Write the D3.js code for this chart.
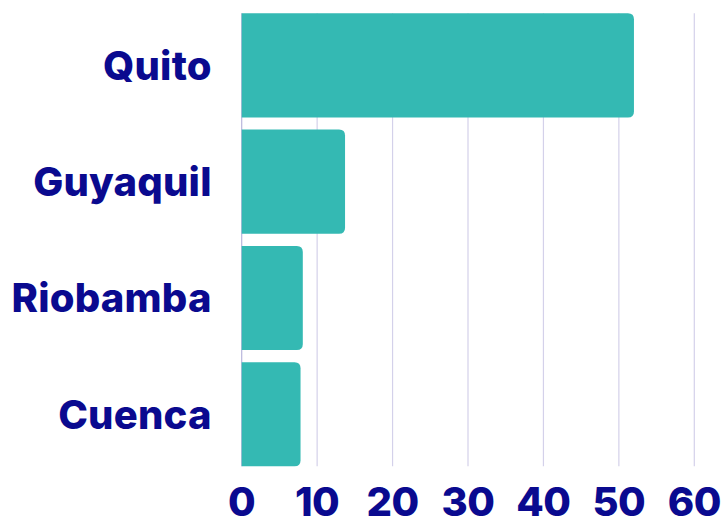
<!DOCTYPE html>
<html>
<head>
<meta charset="utf-8">
<script src="https://cdn.jsdelivr.net/npm/d3@7"></script>
<style>
  body { margin: 0; background: #fff; }
  text { font-family: "Inter", "Lato", sans-serif; font-weight: 800; fill: #0a0a8f; }
</style>
</head>
<body>
<div id="chart"></div>
<script>
const cities = ['Quito', 'Guyaquil', 'Riobamba', 'Cuenca'];
const values = [52, 13.7, 8.1, 7.8];
const ticks = [0, 10, 20, 30, 40, 50, 60];

var width = 721, height = 520;
var margin = {top: 13.3, right: 26.7, bottom: 53.7, left: 241.7};

var svg = d3.select('#chart')
  .append('svg')
  .attr('width', width)
  .attr('height', height);

var x = d3.scaleLinear()
  .domain([0, 60])
  .range([margin.left, width - margin.right]);

var y = d3.scaleBand()
  .domain(cities)
  .range([margin.top, height - margin.bottom])
  .paddingInner(0.105)
  .paddingOuter(0);

// grid lines
svg.append('g')
  .selectAll('line')
  .data(ticks)
  .enter()
  .append('line')
    .attr('x1', d => x(d))
    .attr('x2', d => x(d))
    .attr('y1', margin.top)
    .attr('y2', height - margin.bottom)
    .attr('stroke', d => d === 0 ? '#b9b6dc' : '#d4d1ea')
    .attr('stroke-width', 1.2);

// bars, rounded on the right end only
var r = 6;
function barPath(d, i) {
  var x0 = x(0), x1 = x(values[i]), y0 = y(d), h = y.bandwidth();
  return 'M' + x0 + ',' + y0 +
    'H' + (x1 - r) +
    'Q' + x1 + ',' + y0 + ' ' + x1 + ',' + (y0 + r) +
    'V' + (y0 + h - r) +
    'Q' + x1 + ',' + (y0 + h) + ' ' + (x1 - r) + ',' + (y0 + h) +
    'H' + x0 + 'Z';
}

svg.append('g')
  .selectAll('path')
  .data(cities)
  .enter()
  .append('path')
    .attr('d', barPath)
    .attr('fill', '#34b9b3');

// category labels
svg.append('g')
  .selectAll('text')
  .data(cities)
  .enter()
  .append('text')
    .attr('x', x(0) - 30)
    .attr('y', d => y(d) + y.bandwidth() / 2)
    .attr('dy', '0.36em')
    .attr('text-anchor', 'end')
    .style('font-size', '40px')
    .style('letter-spacing', '0.2px')
    .text(d => d);

// x tick labels
svg.append('g')
  .selectAll('text')
  .data(ticks)
  .enter()
  .append('text')
    .attr('x', d => x(d))
    .attr('y', 516)
    .attr('text-anchor', 'middle')
    .style('font-size', '40px')
    .style('letter-spacing', '-0.5px')
    .text(d => d);
</script>
</body>
</html>
